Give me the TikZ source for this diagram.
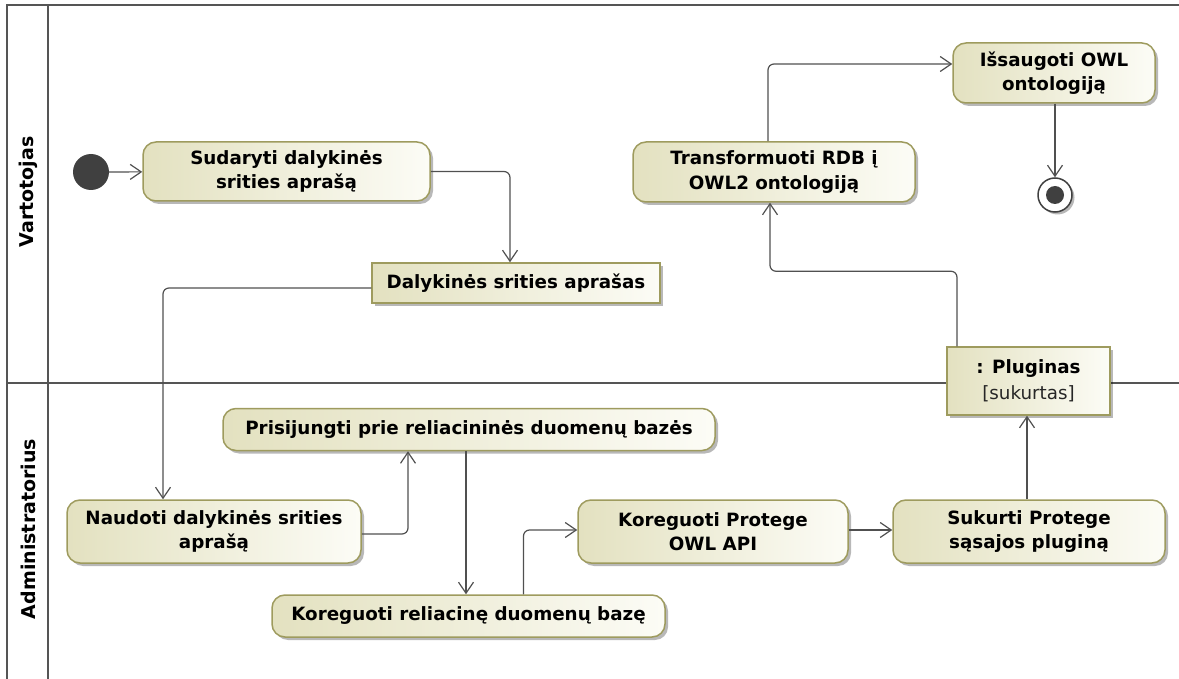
\documentclass[tikz,border=0pt]{standalone}
\usepackage{fontspec}
\setmainfont{DejaVu Sans}
\usetikzlibrary{arrows.meta,shadows}

\definecolor{actL}{HTML}{E3E1C0}
\definecolor{actR}{HTML}{FCFCF6}
\definecolor{actborder}{HTML}{9E9B5E}
\definecolor{framec}{HTML}{555555}
\definecolor{flowc}{HTML}{505050}
\definecolor{dotc}{HTML}{404040}

\begin{document}
\begin{tikzpicture}[x=1pt,y=-1pt,
  lbl/.style={font=\bfseries\fontsize{18.3}{24.5}\selectfont, align=center},
  boxshadow/.style={drop shadow={shadow xshift=3pt,shadow yshift=-3pt,fill=black,opacity=0.28}},
  action/.style={lbl, draw=actborder, line width=1.5pt, rounded corners=13pt,
    left color=actL, right color=actR, boxshadow, inner sep=0pt},
  objbox/.style={lbl, draw=actborder, line width=1.5pt,
    left color=actL, right color=actR, boxshadow, inner sep=0pt},
  frame/.style={draw=framec, line width=2.4pt},
  flow/.style={draw=flowc, line width=1.2pt, rounded corners=6pt,
    -{Straight Barb[length=11pt,width=15pt,line width=1.2pt]}},
  lane/.style={font=\bfseries\fontsize{19}{22}\selectfont, rotate=90}
]
\useasboundingbox (0,0) rectangle (1179,679);

% swimlane frame
\draw[frame] (7,679) -- (7,5) -- (1179,5);
\draw[frame] (48,5) -- (48,679);
\draw[frame] (7,383) -- (1179,383);
\node[lane] (laneA) at (28,192) {Vartotojas};
\node[lane] (laneB) at (28,529) {Administratorius};

% initial and final nodes
\node[circle, fill=dotc, minimum size=36pt, inner sep=0pt] (init) at (91,172) {};
\node[circle, draw=dotc, line width=1.5pt, fill=white, minimum size=34pt, inner sep=0pt,
      drop shadow={shadow xshift=2.5pt,shadow yshift=-2.5pt,fill=black,opacity=0.28}] (fin) at (1055,195) {};
\node[circle, fill=dotc, minimum size=18pt, inner sep=0pt] (fincore) at (fin) {};

% actions of the user
\node[action, minimum width=287pt, minimum height=59pt] (sud) at (286.5,171.5)
  {Sudaryti dalykinės\\srities aprašą};
\node[action, minimum width=282pt, minimum height=60pt] (trans) at (774,172)
  {Transformuoti RDB į\\OWL2 ontologiją};
\node[action, minimum width=202pt, minimum height=60pt] (save) at (1054,73)
  {Išsaugoti OWL\\ontologiją};

% object nodes
\node[objbox, minimum width=288pt, minimum height=40pt] (obj1) at (516,283)
  {Dalykinės srities aprašas};
\node[objbox, minimum width=163pt, minimum height=68pt] (plug) at (1028.5,381)
  {: Pluginas\\[2pt]{\mdseries\color{black!85}[sukurtas]}};

% actions of the administrator
\node[action, minimum width=294pt, minimum height=63pt] (naud) at (214,531.5)
  {Naudoti dalykinės srities\\aprašą};
\node[action, minimum width=492pt, minimum height=42pt] (pris) at (469,429.5)
  {Prisijungti prie reliacininės duomenų bazės};
\node[action, minimum width=393pt, minimum height=42pt] (kreli) at (468.5,616)
  {Koreguoti reliacinę duomenų bazę};
\node[action, minimum width=270pt, minimum height=63pt] (kprot) at (713,531.5)
  {Koreguoti Protege\\OWL API};
\node[action, minimum width=272pt, minimum height=63pt] (sukur) at (1029,531.5)
  {Sukurti Protege\\sąsajos pluginą};

% control and object flows
\draw[flow] (init) -- (sud);
\draw[flow] (sud.east) -| ([xshift=-6pt]obj1.north);
\draw[flow] ([yshift=-5pt]obj1.west) -| ([xshift=-51pt]naud.north);
\draw[flow] ([yshift=-2.5pt]naud.east) -| ([xshift=-61pt]pris.south);
\draw[flow] ([xshift=-3pt]pris.south) -- ([xshift=-3pt]pris.south |- kreli.north);
\draw[flow] ([xshift=55pt]kreli.north) |- ([yshift=1.5pt]kprot.west);
\draw[flow] ([yshift=1.5pt]kprot.east) -- ([yshift=1.5pt]sukur.west);
\draw[flow] ([xshift=-2pt]sukur.north) -- ([xshift=-2pt]sukur.north |- plug.south);
\draw[flow] ([xshift=-71.5pt]plug.north) -- ++(0,-75) -| ([xshift=-4pt]trans.south);
\draw[flow] ([xshift=-6pt]trans.north) |- ([yshift=9pt]save.west);
\draw[flow] (save.south -| fin.north) -- (fin.north);
\end{tikzpicture}
\end{document}
